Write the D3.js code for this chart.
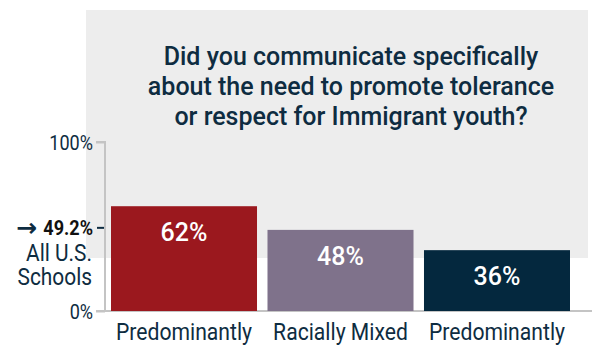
<!DOCTYPE html>
<html>
<head>
<meta charset="utf-8">
<script src="https://cdn.jsdelivr.net/npm/d3@7"></script>
<style>
  body { margin: 0; background: #fff; }
  text { font-family: Roboto, "Noto Sans", sans-serif; }
</style>
</head>
<body>
<div id="chart"></div>
<script>
// data
let categories = ["Predominantly", "Racially Mixed", "Predominantly"];
let values = [62, 48, 36];
let barColors = ["#9b181e", "#7f728b", "#04283e"];
let titleLines = ["Did you communicate specifically", "about the need to promote tolerance", "or respect for Immigrant youth?"];
let refValue = 49.2;
let refLabel = ["All U.S.", "Schools"];
let yTicks = [0, 100];

let svgWidth = 592;
let svgHeight = 347;

let navy = "#0e2c41";
let axisGrey = "#c4c4c4";

let svg = d3.select("#chart")
  .append("svg")
  .attr("width", svgWidth)
  .attr("height", svgHeight);

// grey title panel
svg.append("rect")
  .attr("x", 86)
  .attr("y", 10)
  .attr("width", 502)
  .attr("height", 248)
  .attr("fill", "#ededed");

// title
svg.append("g")
  .selectAll("text")
  .data(titleLines)
  .enter()
  .append("text")
  .attr("x", 351)
  .attr("y", (d, i) => 65 + i * 30)
  .attr("text-anchor", "middle")
  .style("font-size", "25px")
  .style("font-weight", 500)
  .attr("fill", navy)
  .text(d => d);

// scales
let x = d3.scaleBand()
  .domain(d3.range(categories.length))
  .range([111, 570])
  .paddingInner(0.067)
  .paddingOuter(0);

let y = d3.scaleLinear()
  .domain([0, 100])
  .range([311, 142]);

// baseline
svg.append("line")
  .attr("x1", 98)
  .attr("x2", 592)
  .attr("y1", y(0))
  .attr("y2", y(0))
  .attr("stroke", axisGrey)
  .attr("stroke-width", 2);

// y axis
let leftAxis = d3.axisLeft(y).tickValues(yTicks).tickFormat(d => d + "%").tickSize(9);
let axisG = svg.append("g")
  .attr("transform", "translate(105,0)")
  .call(leftAxis);
axisG.select(".domain").attr("stroke", axisGrey).attr("stroke-width", 2)
  .attr("d", `M-9,${y(100)}H0V${y(0)}H-9`);
axisG.selectAll(".tick line").attr("stroke", axisGrey).attr("stroke-width", 2);
axisG.selectAll(".tick text")
  .attr("x", 0)
  .attr("dy", null)
  .attr("transform", "translate(-12,7) scale(0.86,1)")
  .style("font-size", "21px")
  .style("font-family", "Roboto")
  .attr("fill", navy);

// bars
svg.append("g")
  .selectAll("rect")
  .data(values)
  .enter()
  .append("rect")
  .attr("x", (d, i) => x(i))
  .attr("y", d => y(d))
  .attr("width", x.bandwidth())
  .attr("height", d => y(0) - y(d))
  .attr("fill", (d, i) => barColors[i]);

// bar value labels
svg.append("g")
  .selectAll("text")
  .data(values)
  .enter()
  .append("text")
  .attr("x", (d, i) => x(i) + x.bandwidth() / 2)
  .attr("y", d => y(d) + 35)
  .attr("text-anchor", "middle")
  .style("font-size", "25px")
  .style("font-weight", 500)
  .attr("fill", "#fff")
  .text(d => d + "%");

// category labels
svg.append("g")
  .selectAll("text")
  .data(categories)
  .enter()
  .append("text")
  .attr("transform", (d, i) => `translate(${x(i) + x.bandwidth() / 2},340) scale(0.92,1)`)
  .attr("text-anchor", "middle")
  .style("font-size", "23px")
  .attr("fill", navy)
  .text(d => d);

// reference marker for all schools
let refY = y(refValue);
svg.append("line")
  .attr("x1", 97)
  .attr("x2", 104)
  .attr("y1", refY)
  .attr("y2", refY)
  .attr("stroke", navy)
  .attr("stroke-width", 2);

svg.append("text")
  .attr("transform", `translate(93,${refY + 7.5}) scale(0.86,1)`)
  .attr("text-anchor", "end")
  .style("font-size", "21px")
  .style("font-weight", 700)
  .attr("fill", "#111")
  .text(refValue + "%");

svg.append("text")
  .attr("x", 16)
  .attr("y", refY + 8)
  .style("font-family", "'DejaVu Sans'")
  .style("font-size", "25px")
  .style("font-weight", 700)
  .attr("fill", navy)
  .text("\u2192");

svg.append("g")
  .selectAll("text")
  .data(refLabel)
  .enter()
  .append("text")
  .attr("transform", (d, i) => `translate(92,${261 + i * 24}) scale(0.87,1)`)
  .attr("text-anchor", "end")
  .style("font-size", "24px")
  .attr("fill", navy)
  .text(d => d);
</script>
</body>
</html>
